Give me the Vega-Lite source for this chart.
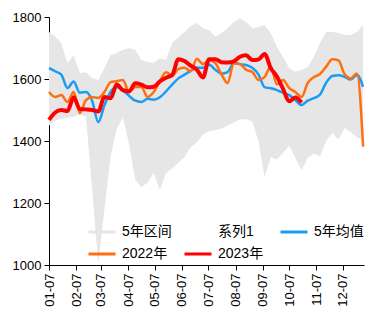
{
  "$schema": "https://vega.github.io/schema/vega-lite/v6.json",
  "autosize": {"type": "none"},
  "padding": {"left": 49, "top": 17, "right": 17, "bottom": 60},
  "width": 315,
  "height": 248,
  "background": "white",
  "config": {
    "view": {"stroke": null},
    "font": "Liberation Sans, Noto Sans CJK SC",
    "axis": {"grid": false, "domainColor": "black", "tickColor": "black", "labelColor": "black", "labelFont": "Liberation Sans", "labelFontSize": 13, "tickSize": 5, "domainWidth": 1, "tickWidth": 1, "title": null}
  },
  "data": {"values": [
    {"d": "2023/01/07", "min": 1450, "max": 1752, "avg": 1635, "y2022": 1558, "y2023": 1468},
    {"d": "2023/01/14", "min": 1465, "max": 1737, "avg": 1625, "y2022": 1542, "y2023": 1492},
    {"d": "2023/01/21", "min": 1472, "max": 1716, "avg": 1614, "y2022": 1548, "y2023": 1500},
    {"d": "2023/01/28", "min": 1475, "max": 1651, "avg": 1571, "y2022": 1526, "y2023": 1497},
    {"d": "2023/02/04", "min": 1478, "max": 1677, "avg": 1592, "y2022": 1558, "y2023": 1541},
    {"d": "2023/02/11", "min": 1485, "max": 1619, "avg": 1556, "y2022": 1490, "y2023": 1503},
    {"d": "2023/02/18", "min": 1480, "max": 1622, "avg": 1558, "y2022": 1532, "y2023": 1502},
    {"d": "2023/02/25", "min": 1245, "max": 1603, "avg": 1530, "y2022": 1542, "y2023": 1500},
    {"d": "2023/03/04", "min": 1005, "max": 1597, "avg": 1461, "y2022": 1539, "y2023": 1495},
    {"d": "2023/03/11", "min": 1180, "max": 1635, "avg": 1515, "y2022": 1558, "y2023": 1542},
    {"d": "2023/03/18", "min": 1350, "max": 1677, "avg": 1558, "y2022": 1590, "y2023": 1538},
    {"d": "2023/03/25", "min": 1440, "max": 1684, "avg": 1574, "y2022": 1593, "y2023": 1582},
    {"d": "2023/04/01", "min": 1475, "max": 1694, "avg": 1563, "y2022": 1597, "y2023": 1564},
    {"d": "2023/04/08", "min": 1390, "max": 1700, "avg": 1546, "y2022": 1558, "y2023": 1560},
    {"d": "2023/04/15", "min": 1274, "max": 1694, "avg": 1530, "y2022": 1574, "y2023": 1586},
    {"d": "2023/04/22", "min": 1252, "max": 1661, "avg": 1526, "y2022": 1574, "y2023": 1582},
    {"d": "2023/04/29", "min": 1265, "max": 1655, "avg": 1536, "y2022": 1542, "y2023": 1573},
    {"d": "2023/05/06", "min": 1297, "max": 1652, "avg": 1533, "y2022": 1558, "y2023": 1575},
    {"d": "2023/05/13", "min": 1242, "max": 1667, "avg": 1541, "y2022": 1593, "y2023": 1592},
    {"d": "2023/05/20", "min": 1297, "max": 1661, "avg": 1560, "y2022": 1622, "y2023": 1604},
    {"d": "2023/05/27", "min": 1312, "max": 1716, "avg": 1582, "y2022": 1610, "y2023": 1613},
    {"d": "2023/06/03", "min": 1330, "max": 1735, "avg": 1602, "y2022": 1632, "y2023": 1664},
    {"d": "2023/06/10", "min": 1348, "max": 1752, "avg": 1614, "y2022": 1636, "y2023": 1658},
    {"d": "2023/06/17", "min": 1380, "max": 1771, "avg": 1626, "y2022": 1625, "y2023": 1643},
    {"d": "2023/06/24", "min": 1395, "max": 1781, "avg": 1636, "y2022": 1665, "y2023": 1630},
    {"d": "2023/07/01", "min": 1420, "max": 1764, "avg": 1636, "y2022": 1648, "y2023": 1605},
    {"d": "2023/07/08", "min": 1432, "max": 1758, "avg": 1646, "y2022": 1661, "y2023": 1664},
    {"d": "2023/07/15", "min": 1435, "max": 1737, "avg": 1630, "y2022": 1651, "y2023": 1664},
    {"d": "2023/07/22", "min": 1440, "max": 1748, "avg": 1617, "y2022": 1615, "y2023": 1654},
    {"d": "2023/07/29", "min": 1450, "max": 1764, "avg": 1622, "y2022": 1587, "y2023": 1653},
    {"d": "2023/08/05", "min": 1460, "max": 1784, "avg": 1652, "y2022": 1650, "y2023": 1657},
    {"d": "2023/08/12", "min": 1470, "max": 1796, "avg": 1648, "y2022": 1648, "y2023": 1672},
    {"d": "2023/08/19", "min": 1470, "max": 1784, "avg": 1645, "y2022": 1630, "y2023": 1677},
    {"d": "2023/08/26", "min": 1462, "max": 1764, "avg": 1636, "y2022": 1623, "y2023": 1661},
    {"d": "2023/09/02", "min": 1400, "max": 1768, "avg": 1615, "y2022": 1597, "y2023": 1663},
    {"d": "2023/09/09", "min": 1284, "max": 1774, "avg": 1574, "y2022": 1606, "y2023": 1681},
    {"d": "2023/09/16", "min": 1348, "max": 1748, "avg": 1570, "y2022": 1640, "y2023": 1635},
    {"d": "2023/09/23", "min": 1340, "max": 1703, "avg": 1564, "y2022": 1583, "y2023": 1608},
    {"d": "2023/09/30", "min": 1362, "max": 1671, "avg": 1556, "y2022": 1597, "y2023": 1568},
    {"d": "2023/10/07", "min": 1385, "max": 1635, "avg": 1548, "y2022": 1571, "y2023": 1528},
    {"d": "2023/10/14", "min": 1345, "max": 1623, "avg": 1532, "y2022": 1558, "y2023": 1540},
    {"d": "2023/10/21", "min": 1306, "max": 1629, "avg": 1516, "y2022": 1542, "y2023": 1524},
    {"d": "2023/10/28", "min": 1345, "max": 1639, "avg": 1530, "y2022": 1587},
    {"d": "2023/11/04", "min": 1360, "max": 1671, "avg": 1538, "y2022": 1606},
    {"d": "2023/11/11", "min": 1350, "max": 1716, "avg": 1550, "y2022": 1616},
    {"d": "2023/11/18", "min": 1400, "max": 1752, "avg": 1588, "y2022": 1640},
    {"d": "2023/11/25", "min": 1426, "max": 1752, "avg": 1610, "y2022": 1664},
    {"d": "2023/12/02", "min": 1405, "max": 1748, "avg": 1612, "y2022": 1660},
    {"d": "2023/12/09", "min": 1442, "max": 1742, "avg": 1607, "y2022": 1615},
    {"d": "2023/12/16", "min": 1428, "max": 1742, "avg": 1598, "y2022": 1602},
    {"d": "2023/12/23", "min": 1412, "max": 1752, "avg": 1613, "y2022": 1618},
    {"d": "2023/12/30", "min": 1403, "max": 1774, "avg": 1575, "y2022": 1382}
  ]},
  "encoding": {
    "x": {
      "field": "d", "type": "temporal",
      "scale": {"domain": [{"year": 2023, "month": 1, "date": 7}, {"year": 2023, "month": 12, "date": 31}]},
      "axis": {
        "format": "%m-%d", "labelAngle": -90, "labelPadding": 3,
        "values": [
          {"year": 2023, "month": 1, "date": 7}, {"year": 2023, "month": 2, "date": 7},
          {"year": 2023, "month": 3, "date": 7}, {"year": 2023, "month": 4, "date": 7},
          {"year": 2023, "month": 5, "date": 7}, {"year": 2023, "month": 6, "date": 7},
          {"year": 2023, "month": 7, "date": 7}, {"year": 2023, "month": 8, "date": 7},
          {"year": 2023, "month": 9, "date": 7}, {"year": 2023, "month": 10, "date": 7},
          {"year": 2023, "month": 11, "date": 7}, {"year": 2023, "month": 12, "date": 7}
        ],
        "labelOverlap": false, "labelBound": false, "labelFlush": false
      }
    }
  },
  "layer": [
    {
      "mark": {"type": "area", "opacity": 1},
      "encoding": {
        "y": {"field": "min", "type": "quantitative", "scale": {"domain": [1000, 1800]},
              "axis": {"values": [1000, 1100, 1200, 1300, 1400, 1500, 1600, 1700, 1800], "format": "d", "labelPadding": 3}},
        "y2": {"field": "max"},
        "color": {
          "datum": "5年区间", "type": "nominal",
          "scale": {"domain": ["5年区间", "系列1", "5年均值", "2022年", "2023年"],
                    "range": ["#e6e6e6", "#ffffff", "#1a9cf4", "#ff6e0f", "#ff0000"]},
          "legend": {
            "orient": "none", "direction": "horizontal", "legendX": 38, "legendY": 200, "columns": 3, "title": null,
            "gridAlign": "all", "columnPadding": 6, "rowPadding": -6,
            "symbolType": "stroke", "symbolSize": 729, "symbolStrokeWidth": 3,
            "labelFont": "Liberation Sans, Noto Sans CJK SC", "labelFontSize": 14, "labelColor": "black", "labelOffset": 5,
            "encode": {"symbols": {"update": {
              "shape": {"signal": "datum.value === '5年区间' ? 'M-1,-0.45H1V0.45H-1Z' : 'stroke'"},
              "fill": {"signal": "datum.value === '5年区间' ? '#e6e6e6' : 'transparent'"},
              "stroke": {"signal": "datum.value === '5年均值' ? '#1a9cf4' : datum.value === '2022年' ? '#ff6e0f' : datum.value === '2023年' ? '#ff0000' : 'transparent'"},
              "strokeWidth": {"signal": "datum.value === '2023年' ? 4 : 3"},
              "opacity": {"value": 1}
            }}}
          }
        }
      }
    },
    {
      "mark": {"type": "line", "strokeWidth": 2.5, "interpolate": "monotone"},
      "encoding": {"y": {"field": "avg", "type": "quantitative"}, "color": {"datum": "5年均值", "type": "nominal"}}
    },
    {
      "mark": {"type": "line", "strokeWidth": 2.5, "interpolate": "monotone"},
      "encoding": {"y": {"field": "y2022", "type": "quantitative"}, "color": {"datum": "2022年", "type": "nominal"}}
    },
    {
      "mark": {"type": "line", "strokeWidth": 4, "interpolate": "monotone"},
      "encoding": {"y": {"field": "y2023", "type": "quantitative"}, "color": {"datum": "2023年", "type": "nominal"}}
    }
  ]
}
